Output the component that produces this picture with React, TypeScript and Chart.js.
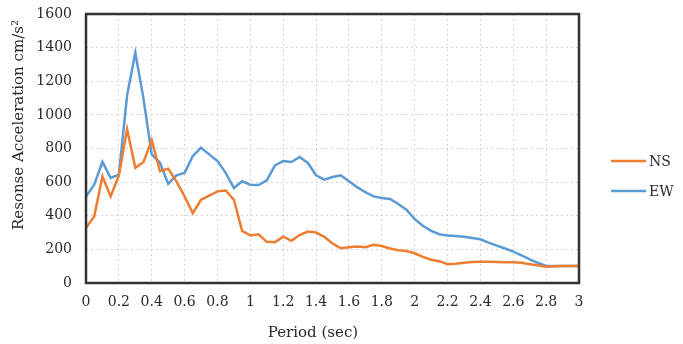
import React, { useEffect, useRef } from 'react';
import { Chart, registerables } from 'chart.js';

Chart.register(...registerables);

const periods = [
  0, 0.05, 0.1, 0.15, 0.2, 0.25, 0.3, 0.35, 0.4, 0.45,
  0.5, 0.55, 0.6, 0.65, 0.7, 0.75, 0.8, 0.85, 0.9, 0.95,
  1.0, 1.05, 1.1, 1.15, 1.2, 1.25, 1.3, 1.35, 1.4, 1.45,
  1.5, 1.55, 1.6, 1.65, 1.7, 1.75, 1.8, 1.85, 1.9, 1.95,
  2.0, 2.05, 2.1, 2.15, 2.2, 2.25, 2.3, 2.35, 2.4, 2.45,
  2.5, 2.55, 2.6, 2.65, 2.7, 2.75, 2.8, 2.85, 2.9, 2.95, 3.0,
];

const nsValues = [
  328, 395, 635, 515, 640, 915, 685, 720, 850, 665,
  680, 605, 515, 415, 495, 520, 545, 550, 495, 310,
  283, 290, 245, 243, 276, 251, 285, 306, 300, 275,
  235, 207, 212, 217, 213, 227, 220, 205, 195, 190,
  177, 155, 138, 130, 112, 115, 120, 125, 127, 126,
  125, 124, 124, 120, 112, 105, 97, 100, 101, 101, 101,
];

const ewValues = [
  515, 585, 720, 625, 645, 1115, 1370, 1095, 765, 715,
  590, 640, 655, 755, 805, 765, 725, 655, 565, 605,
  585, 583, 610, 700, 725, 720, 750, 714, 641, 615,
  630, 641, 605, 570, 540, 515, 505, 500, 470, 436,
  380, 340, 310, 290, 283, 280, 275, 268, 260, 240,
  222, 205, 187, 165, 140, 120, 101, 101, 101, 101, 101,
];

const seriesNames = ['NS', 'EW'];
const seriesColors = ['#ED7D31', '#5B9BD5'];
const xTitle = 'Period (sec)';
const yTitle = 'Resonse Acceleration cm/s\u00B2';

const FONT = "'DejaVu Serif', serif";
const TEXT = '#2a2a2a';
const FRAME = '#333333';

const decorPlugin = {
  id: 'decor',
  afterDraw(chart: any) {
    const ctx: CanvasRenderingContext2D = chart.ctx;
    const a = chart.chartArea;
    ctx.save();
    ctx.setLineDash([]);
    // frame
    ctx.strokeStyle = FRAME;
    ctx.lineWidth = 2.5;
    ctx.beginPath();
    ctx.moveTo(a.left, a.bottom);
    ctx.lineTo(a.left, a.top);
    ctx.lineTo(a.right, a.top);
    ctx.lineTo(a.right, a.bottom);
    ctx.closePath();
    ctx.stroke();
    // x title
    ctx.fillStyle = TEXT;
    ctx.font = `15px ${FONT}`;
    ctx.textAlign = 'center';
    ctx.textBaseline = 'middle';
    ctx.fillText(xTitle, 313, 333);
    // y title
    ctx.save();
    ctx.translate(19, 125);
    ctx.rotate(-Math.PI / 2);
    ctx.fillText(yTitle, 0, 0);
    ctx.restore();
    // legend
    const ys = [161, 191];
    seriesNames.forEach((name, i) => {
      ctx.strokeStyle = seriesColors[i];
      ctx.lineWidth = 2.5;
      ctx.beginPath();
      ctx.moveTo(611, ys[i]);
      ctx.lineTo(646, ys[i]);
      ctx.stroke();
      ctx.fillStyle = TEXT;
      ctx.font = `14px ${FONT}`;
      ctx.textAlign = 'left';
      ctx.textBaseline = 'middle';
      ctx.fillText(name, 649, ys[i] + 1);
    });
    ctx.restore();
  },
};

export default function App() {
  const ref = useRef<HTMLCanvasElement | null>(null);

  useEffect(() => {
    if (!ref.current) return;
    const chart = new Chart(ref.current, {
      type: 'line',
      data: {
        datasets: [
          {
            label: seriesNames[0],
            data: periods.map((p, i) => ({ x: p, y: nsValues[i] })),
            borderColor: seriesColors[0],
            backgroundColor: seriesColors[0],
            borderWidth: 2.5,
            pointRadius: 0,
            tension: 0,
          },
          {
            label: seriesNames[1],
            data: periods.map((p, i) => ({ x: p, y: ewValues[i] })),
            borderColor: seriesColors[1],
            backgroundColor: seriesColors[1],
            borderWidth: 2.5,
            pointRadius: 0,
            tension: 0,
          },
        ],
      },
      options: {
        responsive: false,
        animation: false,
        layout: { padding: { left: 0, top: 14, right: 104, bottom: 0 } },
        plugins: {
          legend: { display: false },
          tooltip: { enabled: false },
        },
        scales: {
          x: {
            type: 'linear',
            min: 0,
            max: 3,
            afterFit: (s: any) => { s.height = 61; },
            ticks: {
              stepSize: 0.2,
              padding: 11,
              color: TEXT,
              font: { family: FONT, size: 14 },
              maxRotation: 0,
              autoSkip: false,
              callback: (v: any) => String(Math.round(Number(v) * 10) / 10),
            },
            grid: { color: '#d4d4d4', drawTicks: false, lineWidth: 1 },
            border: { display: false, dash: [2, 3] },
          },
          y: {
            min: 0,
            max: 1600,
            afterFit: (s: any) => { s.width = 86; },
            ticks: {
              stepSize: 200,
              padding: 0,
              color: TEXT,
              font: { family: FONT, size: 14 },
              callback: (v: any) => String(v),
            },
            grid: { color: '#d4d4d4', drawTicks: true, tickLength: 14, tickColor: 'rgba(0,0,0,0)', lineWidth: 1 },
            border: { display: false, dash: [2, 3] },
          },
        },
      },
      plugins: [decorPlugin],
    } as any);
    return () => chart.destroy();
  }, []);

  return (
    <div style={{ position: 'fixed', left: 0, top: 0, width: 683, height: 344, background: '#fff' }}>
      <canvas ref={ref} width={683} height={344} />
    </div>
  );
}
